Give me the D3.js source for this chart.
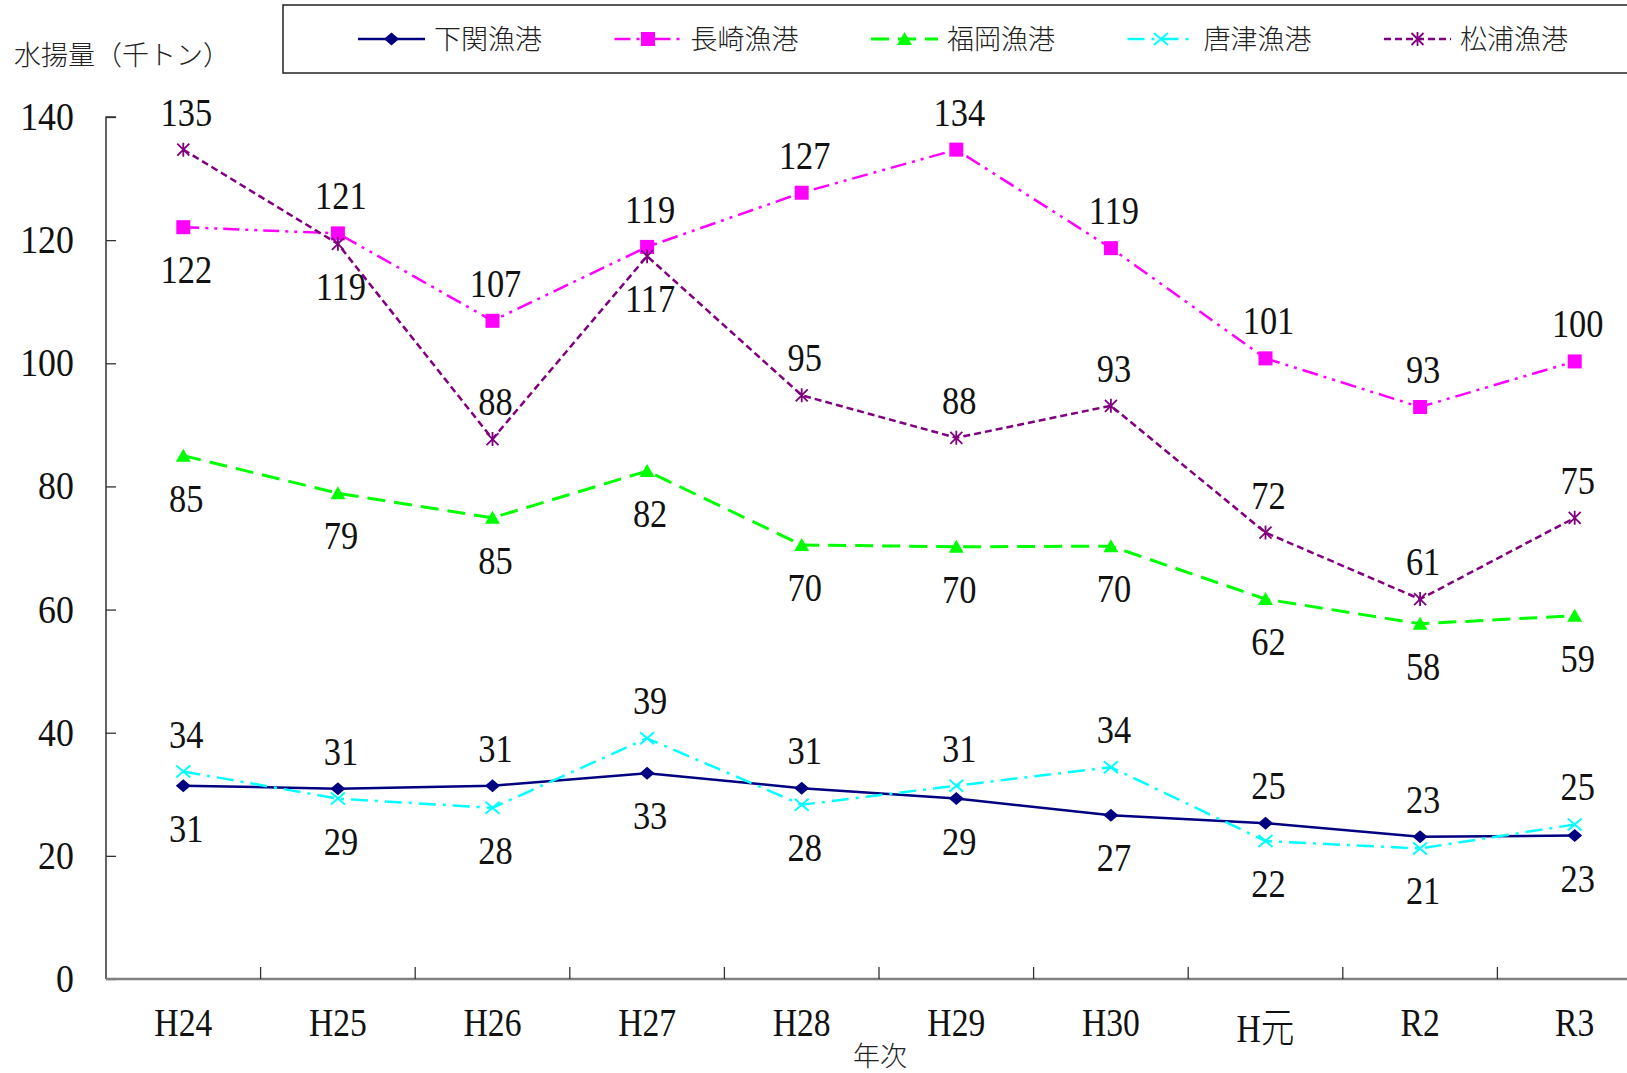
<!DOCTYPE html>
<html><head><meta charset="utf-8">
<script src="https://cdn.jsdelivr.net/npm/d3@7"></script>
<style>body{margin:0;background:#fff}svg{display:block}</style>
</head><body><svg id="c" width="1627" height="1073"></svg>
<script>
// ---- data ----
const categories = ["H24","H25","H26","H27","H28","H29","H30","H元","R2","R3"];
const seriesNames = ["下関漁港","長崎漁港","福岡漁港","唐津漁港","松浦漁港"];
const shimonoseki = [31.4,30.9,31.4,33.4,31.0,29.3,26.6,25.3,23.1,23.3];
const shimonosekiLabels = ["31","31","31","33","31","29","27","25","23","23"];
const nagasaki = [122.1,121.1,106.9,118.9,127.7,134.7,118.7,100.8,92.9,100.3];
const nagasakiLabels = ["122","121","107","119","127","134","119","101","93","100"];
const fukuoka = [85.0,78.9,74.9,82.5,70.5,70.2,70.3,61.7,57.7,59.0];
const fukuokaLabels = ["85","79","85","82","70","70","70","62","58","59"];
const karatsu = [33.7,29.3,27.8,39.1,28.3,31.4,34.4,22.4,21.2,25.1];
const karatsuLabels = ["34","29","28","39","28","31","34","22","21","25"];
const matsuura = [134.7,119.4,87.7,117.4,94.8,87.9,93.1,72.5,61.7,74.9];
const matsuuraLabels = ["135","119","88","117","95","88","93","72","61","75"];
const yTicks = [0,20,40,60,80,100,120,140];
const yTitle = "水揚量（千トン）";
const xTitle = "年次";

// ---- styles ----
const styles = [
  {color:"#000080", dash:null,            width:2.5, marker:"diamond",  defLabel:"above"},
  {color:"#FF00FF", dash:"16,6,3,6,3,6",  width:2.5, marker:"square",   defLabel:"above"},
  {color:"#00FF00", dash:"18,9",          width:3,   marker:"triangle", defLabel:"below"},
  {color:"#00FFFF", dash:"17,7,3,7",      width:2.5, marker:"x",        defLabel:"above"},
  {color:"#800080", dash:"7,4",           width:2.5, marker:"star",     defLabel:"above"}
];
const values = [shimonoseki, nagasaki, fukuoka, karatsu, matsuura];
const labels = [shimonosekiLabels, nagasakiLabels, fukuokaLabels, karatsuLabels, matsuuraLabels];

const svg = d3.select("#c");
svg.append("rect").attr("width",1627).attr("height",1073).attr("fill","#fff");

const x0 = 106, step = 154.6;
const x = d3.scaleBand().domain(categories).range([x0, x0 + step*categories.length]).paddingInner(0).paddingOuter(0);
const y = d3.scaleLinear().domain([0,140]).range([979, 117]);
const cx = c => x(c) + x.bandwidth()/2;

const serif = "'Liberation Serif','Times New Roman',serif";
const cjk = "'Noto Sans CJK JP','Noto Sans CJK SC',sans-serif";

// y axis
const yAxis = svg.append("g").attr("transform",`translate(${x0},0)`)
  .call(d3.axisRight(y).tickValues(yTicks).tickSize(10).tickFormat(""));
yAxis.select(".domain").attr("stroke","#333").attr("stroke-width",1.5).attr("d",`M10,117H0V979`);
yAxis.selectAll(".tick line").attr("stroke","#333").attr("stroke-width",1.3);
svg.append("g").selectAll("text").data(yTicks).join("text")
  .attr("transform",d=>`translate(74,${y(d)+13}) scale(0.92,1)`).attr("text-anchor","end")
  .attr("font-family",serif).attr("font-size",39).attr("fill","#111").text(d=>d);

// x axis
const xb = svg.append("g");
xb.append("line").attr("x1",x0).attr("x2",1627).attr("y1",979).attr("y2",979)
  .attr("stroke","#808080").attr("stroke-width",2.5);
xb.selectAll("line.t").data(categories.slice(1)).join("line").attr("class","t")
  .attr("x1",d=>x(d)).attr("x2",d=>x(d)).attr("y1",979).attr("y2",967)
  .attr("stroke","#333").attr("stroke-width",1.3);
xb.selectAll("text").data(categories).join("text")
  .attr("transform",d=>`translate(${cx(d)},${/^[\x00-\x7f]+$/.test(d)?1036:1042}) scale(0.82,1)`)
  .attr("text-anchor","middle").attr("font-family",serif+","+cjk).attr("font-size",41)
  .attr("font-weight",300).attr("fill","#111").text(d=>d);
svg.append("text").attr("x",880).attr("y",1066).attr("text-anchor","middle")
  .attr("font-family",cjk).attr("font-weight",300).attr("font-size",27).attr("fill","#222").text(xTitle);
svg.append("text").attr("x",14).attr("y",65)
  .attr("font-family",cjk).attr("font-weight",300).attr("font-size",27).attr("fill","#222").text(yTitle);

// markers
function marker(g, type, color, px, py){
  const s = 7.5;
  if(type==="diamond") g.append("path").attr("d",`M${px-s},${py}L${px},${py-6.5}L${px+s},${py}L${px},${py+6.5}Z`).attr("fill",color);
  else if(type==="square") g.append("rect").attr("x",px-7).attr("y",py-7).attr("width",14).attr("height",14).attr("fill",color);
  else if(type==="triangle") g.append("path").attr("d",`M${px},${py-7}L${px+7.5},${py+6}L${px-7.5},${py+6}Z`).attr("fill",color);
  else if(type==="x") g.append("path").attr("d",`M${px-7},${py-6}L${px+7},${py+6}M${px-7},${py+6}L${px+7},${py-6}`).attr("stroke",color).attr("stroke-width",2).attr("fill","none");
  else if(type==="star") g.append("path").attr("d",`M${px-6},${py-6}L${px+6},${py+6}M${px-6},${py+6}L${px+6},${py-6}M${px},${py-7}V${py+7}`).attr("stroke",color).attr("stroke-width",1.8).attr("fill","none");
}

const line = d3.line().x((d,i)=>cx(categories[i])).y(d=>y(d));
const plot = svg.append("g");
values.forEach((vals, si)=>{
  const st = styles[si];
  plot.append("path").datum(vals).attr("d",line).attr("fill","none")
    .attr("stroke",st.color).attr("stroke-width",st.width)
    .attr("stroke-dasharray",st.dash);
});
values.forEach((vals, si)=>{
  const st = styles[si];
  const g = plot.append("g");
  vals.forEach((v,i)=>marker(g, st.marker, st.color, cx(categories[i]), y(v)));
});

// data labels
const lg = svg.append("g").attr("font-family",serif).attr("font-size",41).attr("fill","#111").attr("text-anchor","middle");
values.forEach((vals, si)=>{
  vals.forEach((v,i)=>{
    let pos = styles[si].defLabel;
    const close = values.some((o,oi)=> oi!==si && o[i] > v && o[i]-v < 15);
    if(close) pos = "below";
    const py = y(v);
    const ty = pos==="above" ? py-24 : py+56;
    lg.append("text").attr("transform",`translate(${cx(categories[i])+3},${ty}) scale(0.84,1)`)
      .text(labels[si][i]);
  });
});

// legend
const leg = svg.append("g");
leg.append("rect").attr("x",283).attr("y",5).attr("width",1400).attr("height",68)
  .attr("fill","#fff").attr("stroke","#222").attr("stroke-width",1.5);
seriesNames.forEach((n,i)=>{
  const st = styles[i];
  const lx = 358 + i*256.5, ly = 39;
  leg.append("line").attr("x1",lx).attr("x2",lx+67).attr("y1",ly).attr("y2",ly)
    .attr("stroke",st.color).attr("stroke-width",st.width).attr("stroke-dasharray",st.dash);
  marker(leg, st.marker, st.color, lx+33.5, ly);
  leg.append("text").attr("x",lx+76).attr("y",ly+10).attr("font-family",cjk).attr("font-weight",300)
    .attr("font-size",27).attr("fill","#222").text(n);
});
</script></body></html>
